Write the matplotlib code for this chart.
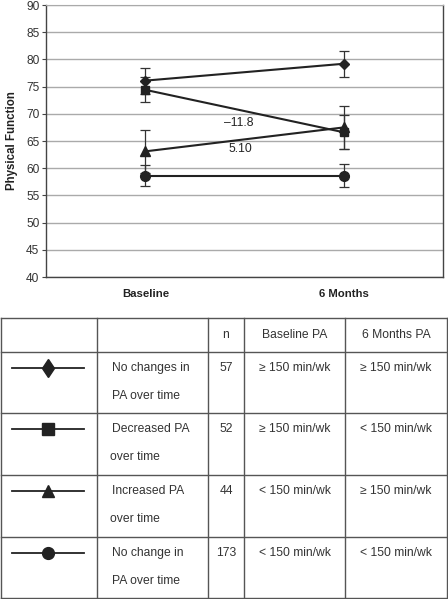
import matplotlib
matplotlib.use("Agg")
import matplotlib.pyplot as plt
from matplotlib.lines import Line2D

plt.rcParams['font.family'] = ['Liberation Sans', 'DejaVu Sans']

# ---- data ----
timepoints = ["Baseline", "6 Months"]
groups = ["No changes in PA over time", "Decreased PA over time",
          "Increased PA over time", "No change in PA over time"]
markers = ["D", "s", "^", "o"]
means = {
    "No changes in PA over time": [76.1, 79.2],
    "Decreased PA over time": [74.4, 66.6],
    "Increased PA over time": [63.1, 67.5],
    "No change in PA over time": [58.6, 58.6],
}
errors = {
    "No changes in PA over time": [2.4, 2.35],
    "Decreased PA over time": [2.3, 3.1],
    "Increased PA over time": [4.0, 4.0],
    "No change in PA over time": [1.9, 2.1],
}
annotations = ["\u201311.8", "5.10"]
annotation_pos = [(0.47, 68.4), (0.48, 63.5)]
yticks = list(range(40, 95, 5))

# table data
table_header = ["", "", "n", "Baseline PA", "6 Months PA"]
table_labels = [["No changes in", "PA over time"], ["Decreased PA", "over time"],
                ["Increased PA", "over time"], ["No change in", "PA over time"]]
table_n = ["57", "52", "44", "173"]
table_base = ["\u2265 150 min/wk", "\u2265 150 min/wk", "< 150 min/wk", "< 150 min/wk"]
table_6mo = ["\u2265 150 min/wk", "< 150 min/wk", "\u2265 150 min/wk", "< 150 min/wk"]

W, H = 448, 599
fig = plt.figure(figsize=(W / 100, H / 100), dpi=100)

# ---- chart ----
ax = fig.add_axes([46.3 / W, 1 - 277 / H, (443 - 46.3) / W, (277 - 5) / H])
x = list(range(len(timepoints)))
ms_map = {"D": 4.6, "s": 6.2, "^": 6.8, "o": 7.0}
for g, m in zip(groups, markers):
    ax.errorbar(x, means[g], yerr=errors[g], color="#222222", ecolor="#333333",
                lw=1.5, elinewidth=0.9, capsize=3.5, capthick=0.9,
                marker=m, ms=ms_map[m], mfc="#222222", mec="#222222", zorder=3)
for t, (tx, ty) in zip(annotations, annotation_pos):
    ax.text(tx, ty, t, ha="center", va="center", fontsize=8.7, color="#222222")

ax.set_xlim(-0.5, 1.5)
ax.set_ylim(40, 90)
ax.set_yticks(yticks)
ax.set_yticklabels([str(v) for v in yticks], fontsize=8.6, color="#333333")
ax.set_xticks(x)
ax.set_xticklabels(timepoints, fontsize=8.2, fontweight="bold", color="#222222")
ax.tick_params(axis="x", length=0, pad=9)
ax.tick_params(axis="y", length=3, width=0.8, color="#444444", pad=2)
ax.set_ylabel("Physical Function", fontsize=8.3, fontweight="bold", color="#222222", labelpad=6)
ax.yaxis.grid(True, color="#aaaaaa", lw=1.0)
ax.set_axisbelow(True)
for side in ["left", "bottom", "right"]:
    ax.spines[side].set_color("#444444")
    ax.spines[side].set_linewidth(1.0)
ax.spines["top"].set_color("#aaaaaa")

# ---- table ----
tx = fig.add_axes([0, 0, 1, 1])
tx.set_xlim(0, W)
tx.set_ylim(H, 0)
tx.axis("off")
col_x = [1, 97, 208, 244, 345, 447]
row_y = [318, 352, 413, 475, 537, 598]
lc = "#555555"
for cx in col_x:
    tx.add_line(Line2D([cx, cx], [row_y[0], row_y[-1]], color=lc, lw=1.0))
for ry in row_y:
    tx.add_line(Line2D([col_x[0], col_x[-1]], [ry, ry], color=lc, lw=1.0))

tc = "#333333"
fs = 8.7
hy = (row_y[0] + row_y[1]) / 2
for i in range(2, 5):
    tx.text((col_x[i] + col_x[i + 1]) / 2, hy, table_header[i], ha="center", va="center",
            fontsize=fs, color=tc)

leg_ms = {"D": 9.5, "s": 8.0, "^": 9.0, "o": 8.5}
for r in range(4):
    top = row_y[r + 1]
    y1 = top + 16
    y2 = top + 44
    m = markers[r]
    mk = "d" if m == "D" else m
    tx.add_line(Line2D([12, 84], [y1, y1], color="#222222", lw=1.3))
    tx.add_line(Line2D([48], [y1], marker=mk, ms=leg_ms[m], color="#222222",
                       mfc="#222222", mec="#222222", lw=0))
    tx.text(112, y1, table_labels[r][0], ha="left", va="center", fontsize=fs, color=tc)
    tx.text(112 if table_labels[r][1].startswith("PA") else 110, y2, table_labels[r][1],
            ha="left", va="center", fontsize=fs, color=tc)
    tx.text((col_x[2] + col_x[3]) / 2, y1, table_n[r], ha="center", va="center", fontsize=fs, color=tc)
    tx.text((col_x[3] + col_x[4]) / 2, y1, table_base[r], ha="center", va="center", fontsize=fs, color=tc)
    tx.text((col_x[4] + col_x[5]) / 2, y1, table_6mo[r], ha="center", va="center", fontsize=fs, color=tc)

fig.savefig("out.png", dpi=100)
